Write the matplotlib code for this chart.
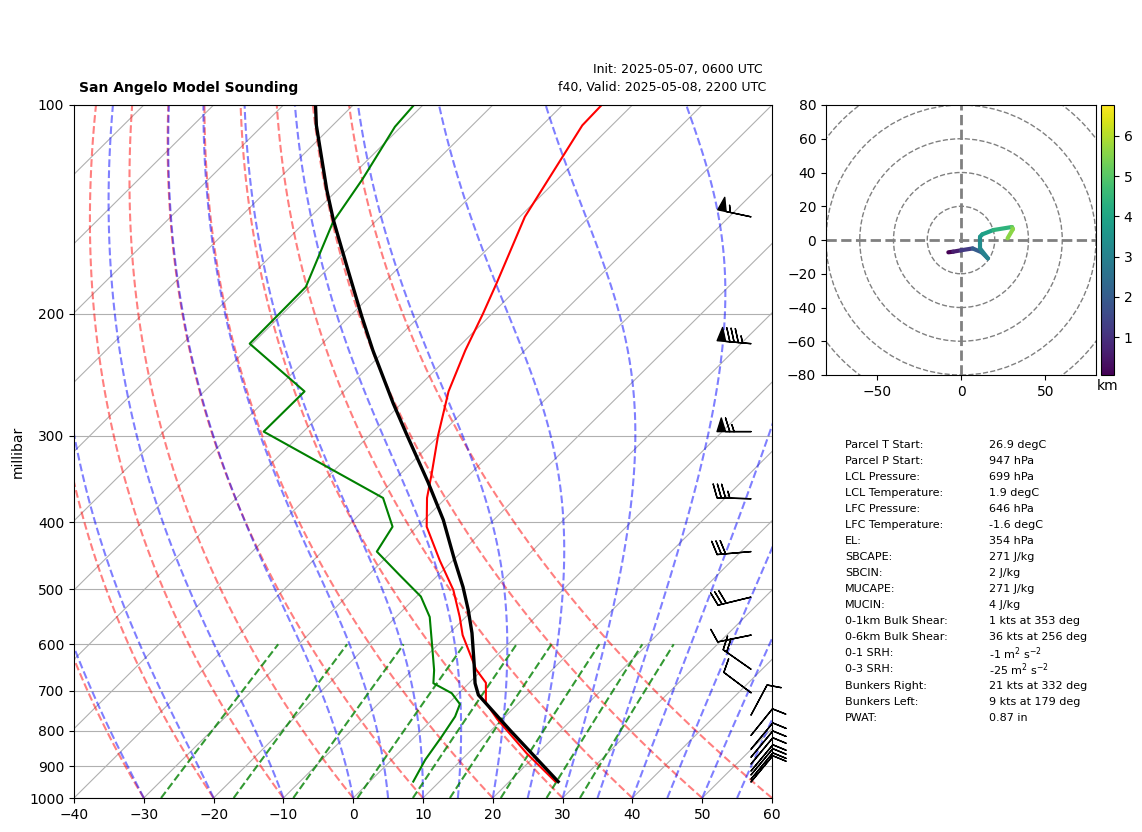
"""Skew-T model sounding with hodograph and parcel stats."""

import matplotlib
matplotlib.use("Agg")
import matplotlib.pyplot as plt
import matplotlib.transforms as mtransforms
import numpy as np
from matplotlib.collections import LineCollection
from matplotlib.colors import Normalize
from matplotlib.patches import Circle

FIG_W, FIG_H = 1142, 832

# temperature trace
temp_p = [947, 862, 770, 729, 682, 652, 582, 548, 501, 454, 406, 369, 340, 299.5, 259, 226, 200, 181, 145, 107, 100]
temp_t = [26.6, 18.4, 9.3, 5.28, 2.39, -0.98, -7.83, -10.86, -15.67, -21.9, -28.62, -32.72, -35.6, -40.19,
          -45.01, -48.53, -51.3, -53.71, -59.27, -64.24, -64.4]

# dewpoint trace
dew_p = [947, 881, 816, 763, 732, 706, 683, 654, 608, 548, 512, 477, 441, 406, 369, 296, 259, 221, 183, 147.5,
         128, 107.5, 100]
dew_t = [6.24, 4.81, 3.83, 2.85, 1.74, -1.0, -5.07, -6.85, -10.27, -15.16, -19.38, -25.48, -32.17, -33.51,
         -39.02, -65.7, -65.64, -80.39, -80.54, -86.01, -87.96, -90.88, -91.29]

# parcel path
parcel_p = [947, 798, 710, 683, 639, 578, 535.5, 496, 454, 397, 350, 298, 269.5, 226, 202, 171, 146.5, 132.6, 107, 100]
parcel_t = [27.0, 12.65, 3.06, 0.9, -2.13, -6.79, -10.64, -14.72, -19.76, -27.21, -34.88, -44.97, -51.21, -61.77,
            -68.23, -77.6, -86.26, -91.53, -102.34, -105.4]

# wind barbs (kts)
barb_p = [145, 221, 296, 370, 441, 513, 582, 652, 705, 759, 812, 850, 873, 893, 914, 926, 939, 948]
barb_u = [53.8, 84.7, 65, 35, 29.9, 29.2, 9.8, 16.4, 8, -4.7, -6.3, -6.4, -6.4, -6.4, -6.4, -6.4, -6.4, -6.4]
barb_v = [-11.4, -7.5, 0, -1, 2.6, 7.1, 2, -11.5, -6, -8.8, -7.8, -7.7, -7.7, -7.7, -7.7, -7.7, -7.7, -7.7]

# hodograph
hodo_u = [-7.5, -4.6, 0, 6.9, 12.3, 15.9, 11.3, 11.3, 12.7, 19.2, 30.2, 30.8, 27.6]
hodo_v = [-7.3, -6.9, -6.1, -5, -7.3, -10.9, -5, 2, 3.4, 5.9, 7.7, 6.5, 1]
hodo_h = [0.06, 0.6, 1.2, 2.0, 2.6, 3.0, 3.3, 3.6, 3.9, 4.4, 5.2, 5.6, 6.77]

# background line start temperatures at 1000 hPa, mixing ratios
dry_t0 = [-40, -30, -20, -10, 0, 10, 20, 30, 40, 50, 60]
moist_t0 = [-40, -30, -20, -10, 0, 5, 10, 15, 20, 25, 30, 35, 40, 45, 50, 55]
mix_w = [0.0004, 0.001, 0.002, 0.004, 0.007, 0.01, 0.016, 0.024, 0.032]

stat_labels = ["Parcel T Start:", "Parcel P Start:", "LCL Pressure:", "LCL Temperature:", "LFC Pressure:",
               "LFC Temperature:", "EL:", "SBCAPE:", "SBCIN:", "MUCAPE:", "MUCIN:", "0-1km Bulk Shear:",
               "0-6km Bulk Shear:", "0-1 SRH:", "0-3 SRH:", "Bunkers Right:", "Bunkers Left:", "PWAT:"]
stat_values = ["26.9 degC", "947 hPa", "699 hPa", "1.9 degC", "646 hPa", "-1.6 degC", "354 hPa", "271 J/kg",
               "2 J/kg", "271 J/kg", "4 J/kg", "1 kts at 353 deg", "36 kts at 256 deg",
               r"-1 m$^2$ s$^{-2}$", r"-25 m$^2$ s$^{-2}$", "21 kts at 332 deg", "9 kts at 179 deg", "0.87 in"]


def axes_rect(left, top, right, bottom):
    return [left / FIG_W, 1 - bottom / FIG_H, (right - left) / FIG_W, (bottom - top) / FIG_H]


def moist_adiabat(t0, pressure):
    # stepped moist lapse rate, pressure falls from 1000 hPa
    def slope(t, p):
        es = 6.112 * np.exp(17.67 * (t - 273.15) / (t - 29.65))
        rs = 0.622 * es / (p - es)
        return (287.0 * t + 2.501e6 * rs) / (1005.0 + 2.501e6 ** 2 * rs * 0.622 / (287.0 * t ** 2)) / p

    temps = [t0 + 273.15]
    for p1, p2 in zip(pressure[:-1], pressure[1:]):
        t = temps[-1]
        k1 = slope(t, p1)
        k2 = slope(t + k1 * (p2 - p1), p2)
        temps.append(t + 0.5 * (k1 + k2) * (p2 - p1))
    return np.array(temps) - 273.15


def draw_skewt(fig):
    ax = fig.add_axes(axes_rect(74, 105, 772, 798))
    ax.set_yscale("log")
    ax.set_xlim(-40, 60)
    ax.set_ylim(1000, 100)
    ax.set_autoscale_on(False)
    skew = ax.transScale + ax.transLimits + mtransforms.Affine2D().skew_deg(45, 0) + ax.transAxes

    ax.set_yticks(np.arange(100, 1001, 100))
    ax.set_yticklabels([str(p) for p in range(100, 1001, 100)])
    ax.minorticks_off()
    ax.set_xticks(np.arange(-40, 61, 10))
    ax.yaxis.grid(True, color="#b0b0b0", linewidth=0.8)
    ax.set_ylabel("millibar", labelpad=3)

    levels = np.geomspace(1000, 100, 120)
    for t in np.arange(-140, 61, 10):
        ax.plot([t, t], [1000, 100], color="#b0b0b0", linewidth=0.8, transform=skew)
    for t0 in dry_t0:
        theta = t0 + 273.15
        ax.plot(theta * (levels / 1000) ** 0.2857 - 273.15, levels, color="r", alpha=0.5, linestyle="--",
                linewidth=1.5, transform=skew)
    for t0 in moist_t0:
        ax.plot(moist_adiabat(t0, levels), levels, color="b", alpha=0.5, linestyle="--", linewidth=1.5,
                transform=skew)
    mix_levels = np.linspace(1000, 600, 30)
    for w in mix_w:
        log_e = np.log(mix_levels * w / (w + 0.622) / 6.112)
        ax.plot(243.5 * log_e / (17.67 - log_e), mix_levels, color="g", alpha=0.8, linestyle="--", linewidth=1.5,
                transform=skew)

    ax.plot(temp_t, temp_p, color="r", linewidth=1.5, transform=skew)
    ax.plot(dew_t, dew_p, color="g", linewidth=1.5, transform=skew)
    ax.plot(parcel_t, parcel_p, color="k", linewidth=2.4, transform=skew)

    barb_trans = mtransforms.blended_transform_factory(ax.transAxes, ax.transData)
    ax.barbs([0.97] * len(barb_p), barb_p, barb_u, barb_v, clip_on=False, transform=barb_trans, zorder=5)


def draw_hodograph(fig):
    ax = fig.add_axes(axes_rect(826, 105, 1096, 375))
    ax.set_xlim(-80, 80)
    ax.set_ylim(-80, 80)
    ax.set_xticks([-50, 0, 50])
    ax.set_yticks(np.arange(-80, 81, 20))
    for radius in [20, 40, 60, 80, 100]:
        ax.add_patch(Circle((0, 0), radius, fill=False, edgecolor="gray", linestyle="--", linewidth=1.0))
    ax.axhline(0, color="gray", linestyle="--", linewidth=2)
    ax.axvline(0, color="gray", linestyle="--", linewidth=2)

    pts = np.column_stack([hodo_u, hodo_v])
    segments = np.stack([pts[:-1], pts[1:]], axis=1)
    norm = Normalize(min(hodo_h), max(hodo_h))
    lines = LineCollection(segments, cmap="viridis", norm=norm, linewidth=3, capstyle="round")
    lines.set_array(np.array(hodo_h[:-1]))
    ax.add_collection(lines)

    cax = fig.add_axes(axes_rect(1100.5, 105, 1114, 375))
    cbar = fig.colorbar(lines, cax=cax)
    cbar.mappable.set_clim(min(hodo_h), max(hodo_h))
    cbar.set_ticks([1, 2, 3, 4, 5, 6])
    cax.set_xlabel("km", labelpad=3)


def draw_text(fig):
    fig.text(79 / FIG_W, 1 - 88 / FIG_H, "San Angelo Model Sounding", fontweight="bold", fontsize=10, va="center")
    fig.text(763 / FIG_W, 1 - 70 / FIG_H, "Init: 2025-05-07, 0600 UTC", fontsize=9, ha="right", va="center")
    fig.text(766 / FIG_W, 1 - 88 / FIG_H, "f40, Valid: 2025-05-08, 2200 UTC", fontsize=9, ha="right", va="center")
    for i, (label, value) in enumerate(zip(stat_labels, stat_values)):
        y = 1 - (444.5 + i * 16.07) / FIG_H
        fig.text(845 / FIG_W, y, label, fontsize=8, va="center")
        fig.text(989 / FIG_W, y, value, fontsize=8, va="center")


def main():
    fig = plt.figure(figsize=(FIG_W / 100, FIG_H / 100), dpi=100)
    draw_skewt(fig)
    draw_hodograph(fig)
    draw_text(fig)
    fig.savefig("out.png", dpi=100)
    plt.close(fig)


if __name__ == "__main__":
    main()
